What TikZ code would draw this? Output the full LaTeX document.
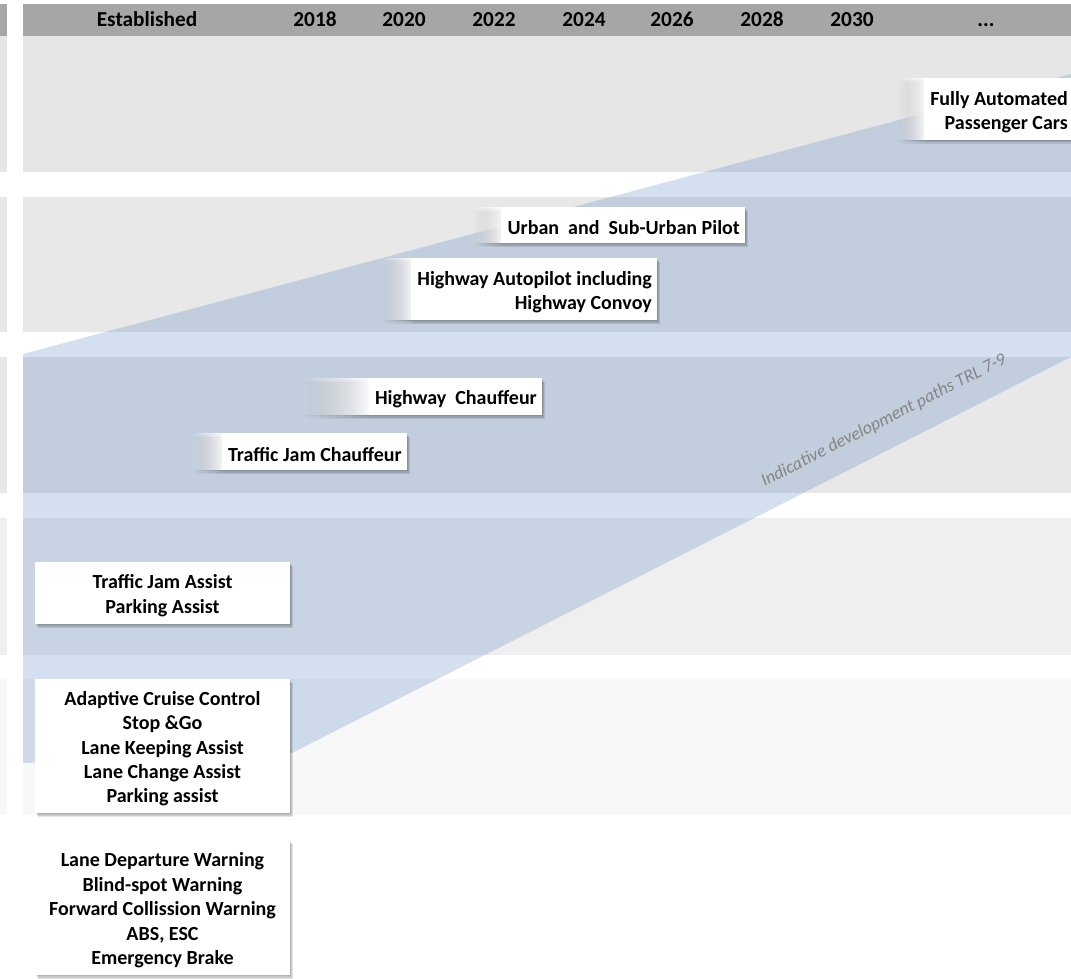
\documentclass[tikz,border=0pt]{standalone}
\usepackage{fontspec}
\setmainfont{Carlito}
\usetikzlibrary{fadings}

\definecolor{hdrgray}{HTML}{A6A6A6}
\definecolor{bandA}{HTML}{E6E6E6}
\definecolor{bandB}{HTML}{E8E8E8}
\definecolor{bandC}{HTML}{EFEFEF}
\definecolor{bandD}{HTML}{F8F8F8}
\definecolor{pathblue}{RGB}{84,132,192}
\definecolor{labelgray}{HTML}{858585}

% white that comes in from nothing on the left
\tikzfading[name=fadein, left color=transparent!100, right color=transparent!0]

\pgfdeclarelayer{bands}
\pgfdeclarelayer{shadows}
\pgfdeclarelayer{boxes}
\pgfsetlayers{bands,shadows,boxes,main}

\newcommand\boxfont{\fontsize{20}{24.4}\selectfont\bfseries}
\newcommand\hdrfont{\fontsize{21.3}{25}\selectfont\bfseries}

\tikzset{
  hdrlabel/.style={anchor=base, font=\hdrfont, text=black, inner sep=0pt},
  plaintext/.style={align=center, font=\boxfont, inner sep=0pt},
  fadetext/.style={align=right, font=\boxfont, inner sep=0pt},
  pathlabel/.style={font=\fontsize{18}{20}\selectfont\itshape, text=labelgray,
                    inner sep=0pt}
}

% soft drop shadow below and right of a rectangle (south west, north east)
\newcommand\shadowrect[3][]{%
  \fill[black,opacity=0.10,#1] ([shift={(1pt,-1pt)}]#2) rectangle ([shift={(1pt,-1pt)}]#3);
  \fill[black,opacity=0.12,#1] ([shift={(2pt,-2.5pt)}]#2) rectangle ([shift={(2pt,-2.5pt)}]#3);
  \fill[black,opacity=0.10,#1] ([shift={(3pt,-4pt)}]#2) rectangle ([shift={(3pt,-4pt)}]#3);
}

% box whose left part fades out: name, fade start x, right x, top y, bottom y, text
\newcommand\tailbox[6]{%
  \node[fadetext, anchor=east] (#1) at ({#3-5},{(#4+#5)/2+3}) {#6};
  \coordinate (#1-nw) at (#2,#4);
  \coordinate (#1-se) at (#3,#5);
  \coordinate (#1-cut) at ([xshift=-6pt]#1.west);
  \coordinate (#1-cutb) at ([xshift=3pt]#1-cut);
  \coordinate (#1-sw) at (#1-cut |- #1-se);
  \coordinate (#1-ne) at (#1-se |- #1-nw);
  \coordinate (#1-tailse) at (#1-cutb |- #1-se);
  \coordinate (#1-tailsw) at (#1-nw |- #1-se);
  \coordinate (#1-cutne) at (#1-cut |- #1-nw);
  \begin{pgfonlayer}{boxes}
    \fill[white] (#1-sw) rectangle (#1-ne);
    \fill[white, path fading=fadein] (#1-nw) rectangle (#1-tailse);
  \end{pgfonlayer}
  \begin{pgfonlayer}{shadows}
    \shadowrect{#1-sw}{#1-ne}
    \shadowrect[path fading=fadein]{#1-tailsw}{#1-cutne}
  \end{pgfonlayer}
}

% plain white box: name, centre x, top y, bottom y, text
\newcommand\plainbox[5]{%
  \node[plaintext] (#1) at (#2,{(#3+#4)/2+2.8}) {#5};
  \coordinate (#1-sw) at ({#2-127.5},#4);
  \coordinate (#1-ne) at ({#2+127.5},#3);
  \begin{pgfonlayer}{boxes}
    \fill[white] (#1-sw) rectangle (#1-ne);
  \end{pgfonlayer}
  \begin{pgfonlayer}{shadows}
    \shadowrect{#1-sw}{#1-ne}
  \end{pgfonlayer}
}

\begin{document}
\begin{tikzpicture}[x=1pt, y=-1pt]
\useasboundingbox (0,0) rectangle (1071,979);

\begin{pgfonlayer}{bands}
  % header bar and the narrow strip at the left edge
  \fill[hdrgray] (23,4) rectangle (1071,36);
  \fill[hdrgray] (0,4) rectangle (7,36);
  % level bands
  \foreach \top/\bot/\col in {36/172/bandA, 197/332/bandB, 357/493/bandB,
                              518/655/bandC, 679/815/bandD} {
    \fill[\col] (23,\top) rectangle (1071,\bot);
    \fill[\col] (0,\top) rectangle (7,\bot);
  }
  % development corridor
  \fill[pathblue, opacity=0.25]
    (23,354) -- (1071,74) -- (1071,357) -- (292,753) -- (23,763) -- cycle;
\end{pgfonlayer}

% timeline header
\node[hdrlabel] (hEst) at (147,26.5) {Established};
\node[hdrlabel] (h2018) at (315,26.5) {2018};
\node[hdrlabel] (h2020) at (404,26.5) {2020};
\node[hdrlabel] (h2022) at (494,26.5) {2022};
\node[hdrlabel] (h2024) at (584,26.5) {2024};
\node[hdrlabel] (h2026) at (672,26.5) {2026};
\node[hdrlabel] (h2028) at (762,26.5) {2028};
\node[hdrlabel] (h2030) at (852,26.5) {2030};
\node[hdrlabel] (hMore) at (986,26.5) {...};

% corridor label
\node[pathlabel, rotate=27, anchor=base] (trl) at (886,425)
  {Indicative development paths TRL 7-9};

% functions on the corridor
\tailbox{full}{895}{1073}{78}{140}{Fully Automated\\Passenger Cars}
\tailbox{urban}{470}{745}{207}{243}{Urban\ \ and\ \ Sub-Urban Pilot}
\tailbox{autopilot}{380}{657}{258}{320}{Highway Autopilot including\\Highway Convoy}
\tailbox{hwchauf}{300}{542}{378}{415}{Highway\ \ Chauffeur}
\tailbox{tjchauf}{190}{407}{433}{470}{Traffic Jam Chauffeur}

% established functions
\plainbox{assist}{162.5}{562}{624}{Traffic Jam Assist\\Parking Assist}
\plainbox{acc}{162.5}{679}{813}{Adaptive Cruise Control\\Stop \&Go\\Lane Keeping Assist\\Lane Change Assist\\Parking assist}
\plainbox{warn}{162.5}{840}{975}{Lane Departure Warning\\Blind-spot Warning\\Forward Collission Warning\\ABS, ESC\\Emergency Brake}

\end{tikzpicture}
\end{document}
